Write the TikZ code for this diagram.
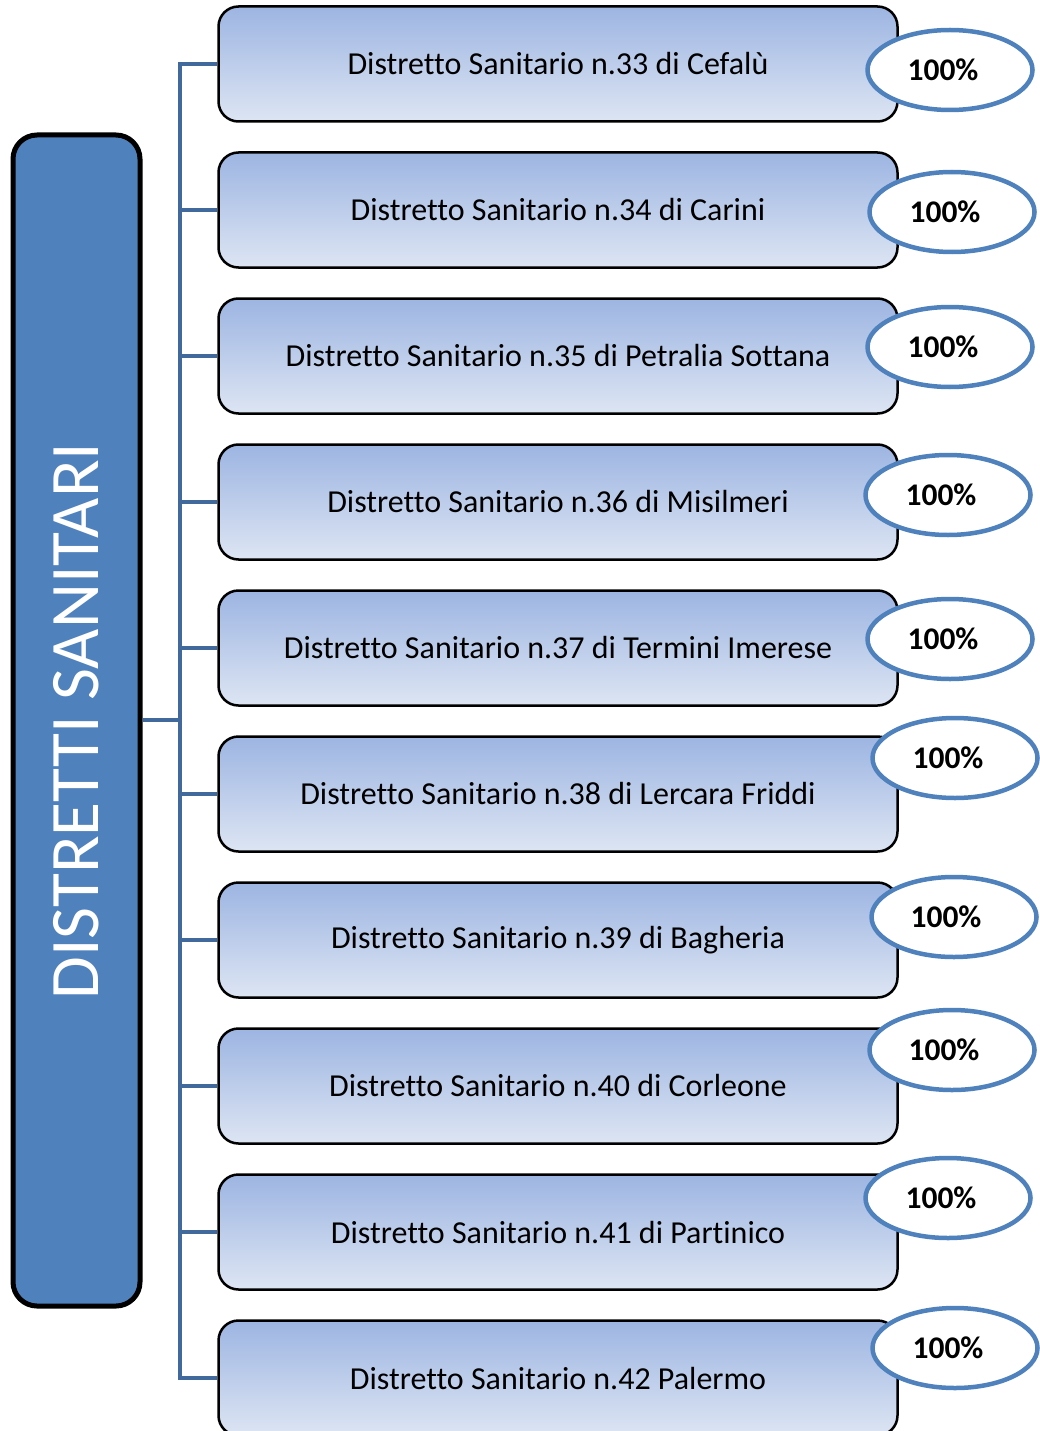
\documentclass[tikz,border=0pt]{standalone}
\usepackage{fontspec}
\setmainfont[Ligatures=NoCommon]{Carlito}
\usetikzlibrary{shapes.geometric}
\definecolor{mainblue}{HTML}{4F81BD}
\definecolor{linkblue}{HTML}{41699B}
\definecolor{boxtop}{HTML}{9DB5E2}
\definecolor{boxbot}{HTML}{DDE5F3}
\begin{document}
\begin{tikzpicture}[x=1pt,y=-1pt,
  mainbox/.style={draw=black, line width=5pt, rounded corners=24pt, fill=mainblue,
    minimum width=127pt, minimum height=1171pt, inner sep=0pt},
  distbox/.style={draw=black, line width=2.5pt, rounded corners=20pt,
    top color=boxtop, bottom color=boxbot,
    minimum width=679pt, minimum height=115pt, inner sep=0pt,
    font=\fontsize{32}{36}\selectfont},
  pct/.style={ellipse, draw=mainblue, line width=4.5pt, fill=white,
    minimum width=165pt, minimum height=80pt, inner sep=0pt},
  pcttext/.style={font=\fontsize{31.5}{36}\selectfont\bfseries},
  link/.style={draw=linkblue, line width=4pt}]
\useasboundingbox (0,0) rectangle (1040,1431);
\clip (0,0) rectangle (1040,1431);

\node[mainbox] (main) at (76.5,720.5) {};
\node[rotate=90, text=white, font=\fontsize{69.5}{74}\selectfont] (title) at (76,721) {DISTRETTI SANITARI};

\coordinate (hub) at (180,720);

\foreach \i/\txt [count=\k from 0] in {
  1/{Distretto Sanitario n.33 di Cefalù},
  2/{Distretto Sanitario n.34 di Carini},
  3/{Distretto Sanitario n.35 di Petralia Sottana},
  4/{Distretto Sanitario n.36 di Misilmeri},
  5/{Distretto Sanitario n.37 di Termini Imerese},
  6/{Distretto Sanitario n.38 di Lercara Friddi},
  7/{Distretto Sanitario n.39 di Bagheria},
  8/{Distretto Sanitario n.40 di Corleone},
  9/{Distretto Sanitario n.41 di Partinico},
  10/{Distretto Sanitario n.42 Palermo}} {
  \pgfmathsetmacro{\yy}{64+146*\k}
  \node[distbox] (b\i) at (558,\yy) {\txt};
  \coordinate (t\i) at (180,\yy);
  \draw[link] (t\i) -- (b\i.west);
}

\draw[link, line cap=rect] (t1) -- (t10);
\draw[link] (main.east |- hub) -- (hub);

\foreach \i/\ex/\ey/\tx in {
  1/950/70/943, 2/952/212/945, 3/950/347/943, 4/948/495/941, 5/950/639/943,
  6/955/758/948, 7/954/917/946, 8/952/1050/944, 9/948/1198/941, 10/955/1348/948} {
  \node[pct] (e\i) at (\ex,\ey) {};
  \node[pcttext] (p\i) at (\tx,\ey) {100\%};
}
\end{tikzpicture}
\end{document}
